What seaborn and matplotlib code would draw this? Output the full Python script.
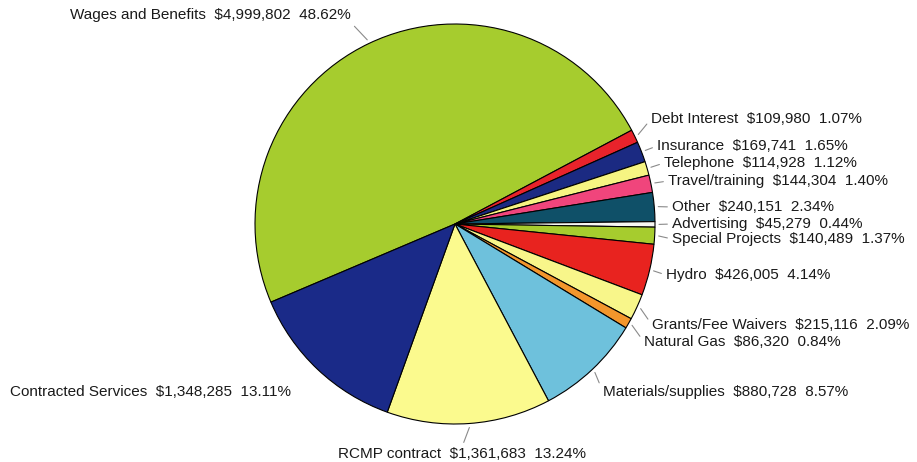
import numpy as np
import matplotlib
matplotlib.use("Agg")
import matplotlib.pyplot as plt
import seaborn as sns

# ---- data ----
categories = ["Wages and Benefits", "Debt Interest", "Insurance", "Telephone",
              "Travel/training", "Other", "Advertising", "Special Projects",
              "Hydro", "Grants/Fee Waivers", "Natural Gas", "Materials/supplies",
              "RCMP contract", "Contracted Services"]
amounts = [4999802, 109980, 169741, 114928, 144304, 240151, 45279, 140489,
           426005, 215116, 86320, 880728, 1361683, 1348285]
colors = ["#a6cc2e", "#e8232b", "#1b2a82", "#f6f482", "#f0457c", "#0f5068",
          "#f7f7f2", "#a6cc2e", "#e8231f", "#f8f68a", "#f3962c", "#6ec1dc",
          "#fbfa8e", "#1a2a88"]

# label anchors in pixels (x, y from top), alignment, whether a leader line is drawn
label_pos = [(210, 15, "center", True), (651, 119, "left", True),
             (657, 146, "left", True), (664, 163, "left", True),
             (668, 181, "left", True), (672, 207, "left", True),
             (672, 224, "left", True), (672, 239, "left", True),
             (666, 275, "left", True), (652, 325, "left", True),
             (644, 342, "left", True), (603, 392, "left", True),
             (462, 454, "center", True), (10, 392, "left", False)]

sns.set_theme(style="white")
plt.rcParams["font.family"] = ["Liberation Sans", "DejaVu Sans"]

W, H = 917, 462
fig = plt.figure(figsize=(W / 100, H / 100), dpi=100, facecolor="white")
ax = fig.add_axes([255 / W, (H - 424) / H, 400 / W, 400 / H])

wedges, _ = ax.pie(amounts, colors=colors, startangle=203, counterclock=False,
                   radius=1.0,
                   wedgeprops=dict(edgecolor="black", linewidth=0.8))
ax.set_xlim(-1.0, 1.0)
ax.set_ylim(-1.0, 1.0)
ax.set_aspect("equal")
ax.axis("off")

total = sum(amounts)
fs = 11
for w, cat, amt, (px, py, ha, leader) in zip(wedges, categories, amounts, label_pos):
    text = f"{cat}  ${amt:,}  {amt / total * 100:.2f}%"
    mid = np.deg2rad((w.theta1 + w.theta2) / 2)
    xy = (1.02 * np.cos(mid), 1.02 * np.sin(mid))
    if leader:
        relx = 0.0 if ha == "left" else 0.5
        rely = 0.5 if ha == "left" else 0.0
        if cat == "Wages and Benefits":
            relx, rely = 1.0, 0.0
        if cat == "RCMP contract":
            relx, rely = 0.5, 1.0
        ax.annotate(text, xy=xy, xycoords="data",
                    xytext=(px, H - py), textcoords="figure pixels",
                    ha=ha, va="center", fontsize=fs, color="#1a1a1a",
                    annotation_clip=False,
                    arrowprops=dict(arrowstyle="-", color="#8a8a8a", lw=0.8,
                                    relpos=(relx, rely), shrinkA=1, shrinkB=0))
    else:
        fig.text(px / W, 1 - py / H, text, ha=ha, va="center",
                 fontsize=fs, color="#1a1a1a")

fig.savefig("out.png", dpi=100, facecolor="white")
